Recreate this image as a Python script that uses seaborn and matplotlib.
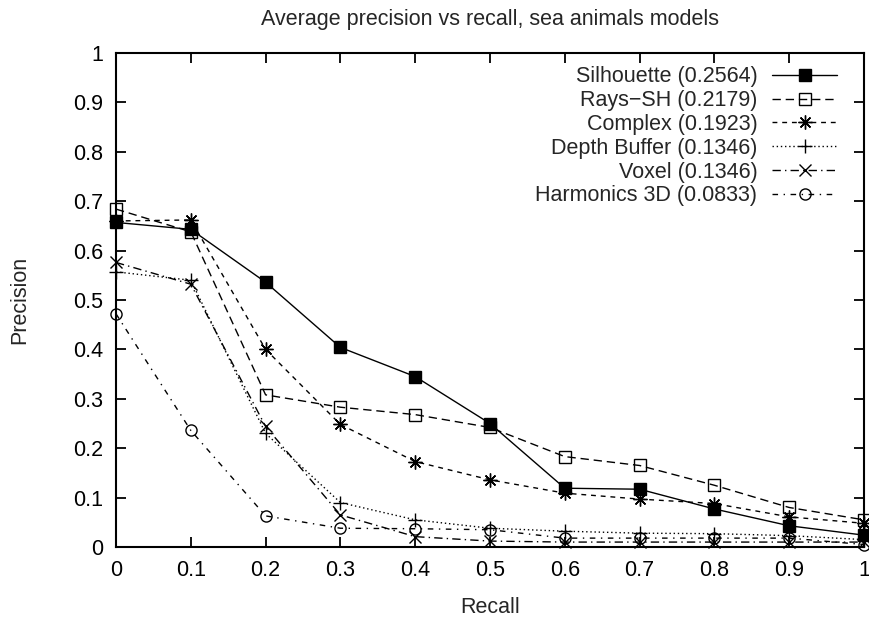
import matplotlib
matplotlib.use("Agg")
import matplotlib.pyplot as plt
import seaborn as sns
import numpy as np
from matplotlib.ticker import FormatStrFormatter

recall = [0.0, 0.1, 0.2, 0.3, 0.4, 0.5, 0.6, 0.7, 0.8, 0.9, 1.0]

silhouette = [0.657, 0.643, 0.536, 0.404, 0.345, 0.250, 0.119, 0.117, 0.077, 0.043, 0.024]
rays_sh = [0.684, 0.638, 0.308, 0.283, 0.268, 0.242, 0.183, 0.165, 0.125, 0.080, 0.055]
complex_ = [0.660, 0.662, 0.400, 0.248, 0.173, 0.136, 0.109, 0.097, 0.088, 0.061, 0.048]
depth_buffer = [0.557, 0.540, 0.230, 0.090, 0.055, 0.038, 0.032, 0.028, 0.027, 0.023, 0.015]
voxel = [0.576, 0.532, 0.244, 0.065, 0.021, 0.012, 0.010, 0.010, 0.010, 0.010, 0.010]
harmonics = [0.472, 0.236, 0.063, 0.038, 0.037, 0.035, 0.018, 0.018, 0.018, 0.018, 0.005]

labels = ["Silhouette (0.2564)", "Rays\u2212SH (0.2179)", "Complex (0.1923)",
          "Depth Buffer (0.1346)", "Voxel (0.1346)", "Harmonics 3D (0.0833)"]
series = [silhouette, rays_sh, complex_, depth_buffer, voxel, harmonics]

sns.set_style("ticks")
plt.rcParams['font.family'] = ['Liberation Sans', 'DejaVu Sans']
FS = 15.5

styles = [
    dict(marker='s', ls='-', mfc='black', ms=8.5),
    dict(marker='s', ls=(0, (6, 3.5)), mfc='none', ms=8.5),
    dict(marker=(8, 2, 0), ls=(0, (3.5, 3.5)), mfc='none', ms=10),
    dict(marker='+', ls=(0, (1, 2)), mfc='none', ms=10),
    dict(marker='x', ls=(0, (6, 3, 1, 3)), mfc='none', ms=8),
    dict(marker='o', ls=(0, (4, 4, 1, 4)), mfc='none', ms=8),
]

fig = plt.figure(figsize=(8.69, 6.19), dpi=100)
ax = fig.add_axes([0.1335, 0.1163, 0.8607, 0.7981])

for vals, lab, st in zip(series, labels, styles):
    sns.lineplot(x=recall, y=vals, ax=ax, color='black', label=lab,
                 marker=st['marker'], linestyle=st['ls'], markersize=st['ms'],
                 markerfacecolor=st['mfc'], markeredgecolor='black',
                 markeredgewidth=1.0, linewidth=1.0, clip_on=False)

ax.set_xlim(0, 1)
ax.set_ylim(0, 1)
ax.set_xticks(np.arange(0, 1.01, 0.1))
ax.set_yticks(np.arange(0, 1.01, 0.1))
ax.xaxis.set_major_formatter(FormatStrFormatter('%g'))
ax.yaxis.set_major_formatter(FormatStrFormatter('%g'))
ax.tick_params(direction='in', top=True, right=True, length=7.5, width=1.3,
               labelsize=FS, colors='black')
ax.tick_params(axis='x', pad=9)
ax.tick_params(axis='y', pad=9)
for s in ax.spines.values():
    s.set_visible(True)
    s.set_linewidth(1.5)
    s.set_color('black')

ax.set_xlabel("Recall", fontsize=FS, labelpad=12)
ax.set_ylabel("Precision", fontsize=FS, labelpad=31)
ax.set_title("Average precision vs recall, sea animals models", fontsize=FS, pad=20)

leg = ax.legend(loc='upper right', bbox_to_anchor=(0.964, 0.973), frameon=False,
                markerfirst=False, fontsize=FS, handlelength=3.0, handletextpad=0.7,
                labelspacing=0.13, borderpad=0, borderaxespad=0)

fig.savefig("out.png", dpi=100)
